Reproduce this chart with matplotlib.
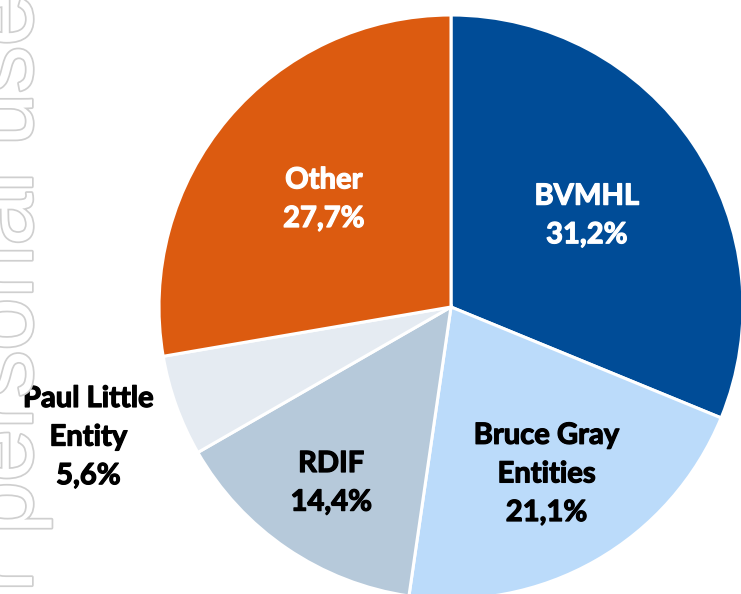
import numpy as np
import matplotlib.pyplot as plt
import matplotlib.patheffects as pe

# data
labels = ['BVMHL', 'Bruce Gray\nEntities', 'RDIF', 'Paul Little\nEntity', 'Other']
shares = [31.2, 21.1, 14.4, 5.6, 27.7]
colors = ['#004C97', '#BBDBFA', '#B6C9DA', '#E5EBF2', '#DC5B10']
text_colors = ['white', 'black', 'black', 'black', 'white']
label_dist = [0.56, 0.66, 0.73, 1.32, 0.57]

fig = plt.figure(figsize=(7.41, 5.94), dpi=100)
ax = fig.add_axes([0, 0, 1, 1])

# watermark, rotated and outlined
fig.text(32 / 741, -0.182, 'For personal use only', rotation=90, rotation_mode='anchor',
         ha='left', va='baseline', fontsize=68, family='Liberation Sans', color='white',
         path_effects=[pe.withStroke(linewidth=2.5, foreground='#cfcfcf')], zorder=0)

cx, cy, r = 451, 287, 292
wedges, _ = ax.pie(shares, colors=colors, startangle=90, counterclock=False,
                   center=(cx, cy), radius=r, frame=True,
                   wedgeprops=dict(edgecolor='white', linewidth=2.2))
ax.set_xlim(0, 741)
ax.set_ylim(0, 594)
ax.set_aspect('equal')
ax.axis('off')
ax.patch.set_visible(False)

for w, lab, v, tc, d in zip(wedges, labels, shares, text_colors, label_dist):
    mid = np.deg2rad((w.theta1 + w.theta2) / 2)
    x = cx + r * d * np.cos(mid)
    y = cy + r * d * np.sin(mid)
    txt = lab + '\n' + f'{v:.1f}%'.replace('.', ',')
    ax.text(x, y, txt, ha='center', va='center', color=tc, fontsize=21,
            family='Lato', fontweight='bold', linespacing=1.6,
            path_effects=[pe.withStroke(linewidth=0.9, foreground=tc)])

fig.savefig('out.png', dpi=100)
